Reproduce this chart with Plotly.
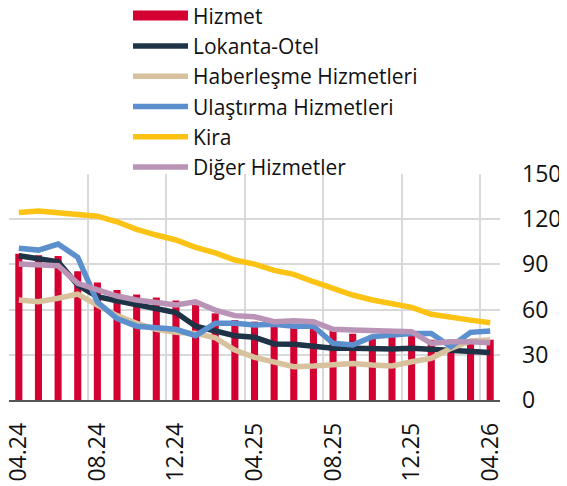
import plotly.graph_objects as go

months = ["04.24","05.24","06.24","07.24","08.24","09.24","10.24","11.24","12.24",
          "01.25","02.25","03.25","04.25","05.25","06.25","07.25","08.25","09.25",
          "10.25","11.25","12.25","01.26","02.26","03.26","04.26"]
tick_labels = ["04.24","08.24","12.24","04.25","08.25","12.25","04.26"]

hizmet = [97, 96, 95.5, 85.5, 78, 73, 70, 68, 66, 63, 57.5, 53, 52, 50, 48.5, 48.5,
          46, 44, 43, 44, 43, 40, 40, 40, 40]
lokanta = [95.8, 94, 91.8, 76.3, 68.6, 65.9, 63, 60.2, 58, 49, 45.8, 42.7, 41.6, 37.2,
           37, 35.4, 34.3, 34.3, 33.8, 33.8, 34.3, 33.8, 33.2, 31.9, 31.6]
haberlesme = [66.4, 65.2, 67.5, 70.3, 63, 56, 50.9, 46.9, 44.9, 44.2, 41.3, 33.2, 28.3,
              25.5, 22.1, 22.6, 23.7, 24.3, 23.2, 22.6, 25.4, 27.7, 34.3, 39.2, 39.8]
ulastirma = [100.7, 99.5, 103.5, 94.7, 65, 54, 49, 48.4, 46.9, 42.7, 50.9, 50.9, 49.8,
             50.3, 49, 49, 37.6, 36.5, 42, 43.1, 44.2, 44.2, 35.4, 44.9, 45.8]
kira = [124.5, 125.4, 124.3, 123, 122, 118.3, 113.3, 109.5, 106.2, 101.3, 97.7, 92.9,
        90.2, 86, 83.4, 78.5, 74.1, 69.7, 66.4, 63.5, 61.5, 56.9, 54.6, 53, 51.3]
diger = [90.2, 90, 89.1, 77.4, 73, 69, 66.4, 64.8, 63, 65.2, 59.7, 56, 55.3, 52, 52.6,
         52, 46.9, 46.4, 45.8, 45.3, 45.3, 37.6, 38.7, 38.7, 38]

x = list(range(len(months)))
tick_pos = [months.index(t) for t in tick_labels]
grid_pos = [p - 0.5 for p in tick_pos]

FONT = "Open Sans"
RED = "#d50032"
fig = go.Figure()
fig.add_trace(go.Bar(x=x, y=hizmet, name="Hizmet", marker_color=RED,
                     marker_line_width=0, width=0.36, showlegend=False))
# legend entry for the bar series (drawn as a wide block like the original)
fig.add_trace(go.Scatter(x=[None], y=[None], name="Hizmet", mode="lines",
                         line=dict(color=RED, width=13)))
series = [("Lokanta-Otel", lokanta, "#1f3347"),
          ("Haberleşme Hizmetleri", haberlesme, "#d8c29e"),
          ("Ulaştırma Hizmetleri", ulastirma, "#5b8fcd"),
          ("Kira", kira, "#fcc314"),
          ("Diğer Hizmetler", diger, "#b994b6")]
for name, vals, col in series:
    fig.add_trace(go.Scatter(x=x, y=vals, name=name, mode="lines",
                             line=dict(color=col, width=5.5)))
# helper trace for the vertical grid axis
fig.add_trace(go.Scatter(x=x, y=hizmet, xaxis="x2", mode="lines", opacity=0,
                         showlegend=False, hoverinfo="skip"))

# page body has an 8px default margin, so the figure is 8px smaller
fig.update_layout(
    width=559, height=478,
    margin=dict(l=1, r=67, t=166, b=86, autoexpand=False),
    paper_bgcolor="white", plot_bgcolor="white",
    font=dict(family=FONT, size=23, color="#111111"),
    barmode="overlay",
    xaxis=dict(range=[-0.5, 24.5], tickvals=tick_pos, ticktext=tick_labels,
               tickangle=-90, showgrid=False, showline=True, linecolor="#555555",
               linewidth=1.5, ticks="", zeroline=False, tickfont=dict(size=23),
               automargin=False, ticklabelstandoff=12, ticklabeloverflow="allow"),
    xaxis2=dict(range=[-0.5, 24.5], overlaying="x", tickvals=grid_pos,
                showgrid=True, gridcolor="#d9d9d9", gridwidth=1.5,
                showticklabels=False, ticks="", zeroline=False, showline=False,
                automargin=False),
    yaxis=dict(range=[0, 150], tickvals=[0, 30, 60, 90, 120, 150], side="right",
               showgrid=True, gridcolor="#d9d9d9", gridwidth=1.5, ticks="",
               zeroline=False, ticklabelstandoff=21, tickfont=dict(size=23),
               automargin=False, ticklabeloverflow="allow"),
    legend=dict(x=0.2424, y=1.79, xanchor="left", yanchor="top",
                bgcolor="rgba(0,0,0,0)", font=dict(size=21), itemwidth=55,
                tracegroupgap=0, traceorder="normal"),
    showlegend=True,
)
fig.write_html("out.html")
